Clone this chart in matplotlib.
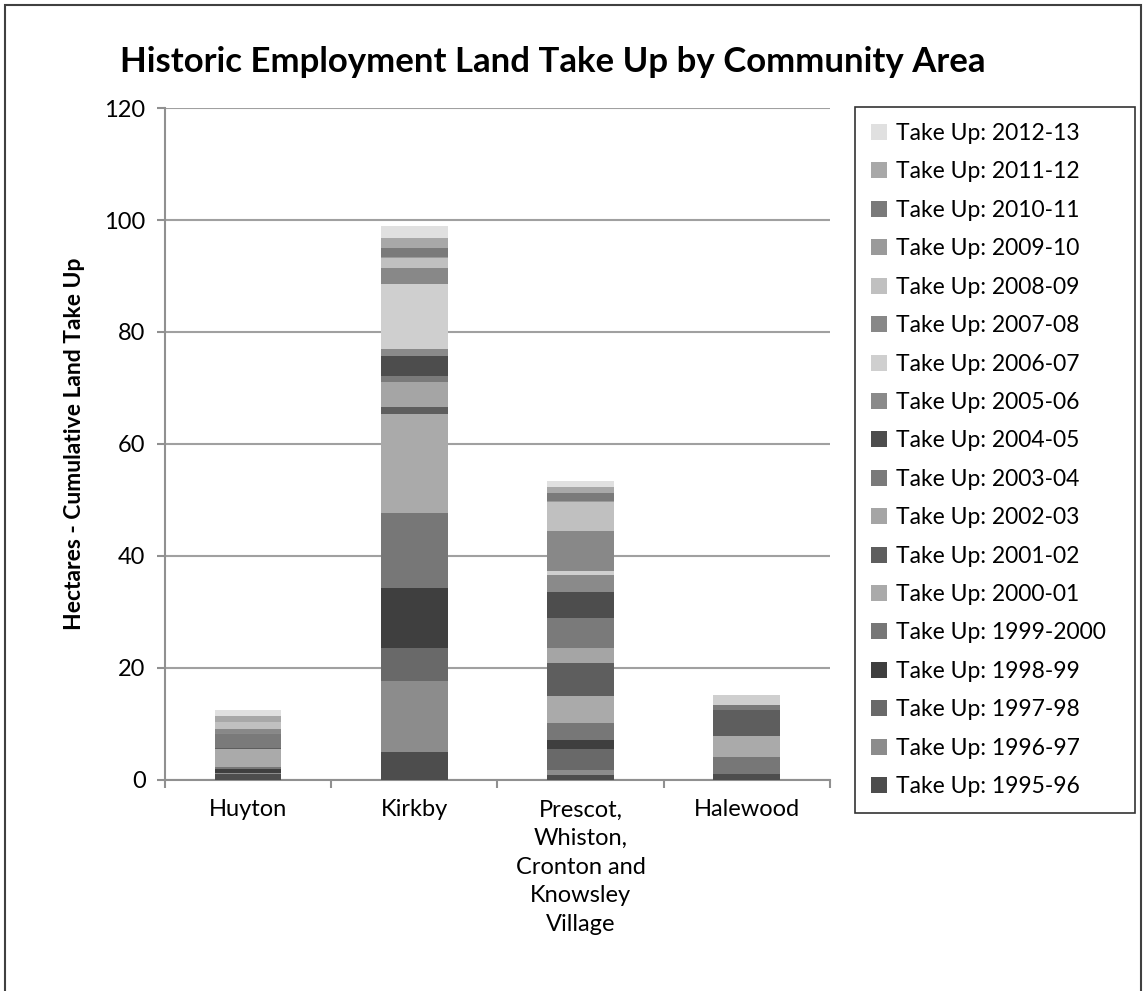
import numpy as np
import matplotlib
matplotlib.use("Agg")
import matplotlib.pyplot as plt
from matplotlib.patches import Rectangle

areas = ["Huyton", "Kirkby", "Prescot,\nWhiston,\nCronton and\nKnowsley\nVillage", "Halewood"]

years = ["1995-96", "1996-97", "1997-98", "1998-99", "1999-2000", "2000-01",
         "2001-02", "2002-03", "2003-04", "2004-05", "2005-06", "2006-07",
         "2007-08", "2008-09", "2009-10", "2010-11", "2011-12", "2012-13"]

# hectares taken up each year, per area (Huyton, Kirkby, Prescot..., Halewood)
take_up = {
    "1995-96":   [1.0, 5.0, 0.9, 1.1],
    "1996-97":   [0.25, 12.7, 0.8, 0.0],
    "1997-98":   [0.0, 5.9, 3.9, 0.0],
    "1998-99":   [0.7, 10.7, 1.6, 0.0],
    "1999-2000": [0.3, 13.4, 3.0, 3.0],
    "2000-01":   [3.3, 17.7, 4.8, 3.7],
    "2001-02":   [0.2, 1.2, 5.9, 4.6],
    "2002-03":   [0.0, 4.4, 2.7, 0.0],
    "2003-04":   [2.5, 1.1, 5.4, 1.0],
    "2004-05":   [0.0, 3.7, 4.6, 0.0],
    "2005-06":   [0.2, 1.2, 3.0, 0.0],
    "2006-07":   [0.0, 11.6, 0.7, 1.7],
    "2007-08":   [0.7, 2.9, 7.1, 0.0],
    "2008-09":   [1.2, 1.7, 5.2, 0.0],
    "2009-10":   [0.0, 0.2, 0.2, 0.0],
    "2010-11":   [0.0, 1.65, 1.5, 0.0],
    "2011-12":   [1.1, 1.8, 1.0, 0.0],
    "2012-13":   [1.1, 2.1, 1.1, 0.0],
}

greys = ["#4d4d4d", "#8c8c8c", "#696969", "#3f3f3f", "#777777", "#aaaaaa",
         "#5e5e5e", "#a5a5a5", "#7a7a7a", "#4d4d4d", "#8a8a8a", "#cfcfcf",
         "#888888", "#c0c0c0", "#9a9a9a", "#7a7a7a", "#a8a8a8", "#e0e0e0"]

plt.rcParams['font.family'] = ['Lato', 'DejaVu Sans']

fig = plt.figure(figsize=(11.46, 9.91), dpi=100)
ax = fig.add_axes([0.144, 0.213, 0.58, 0.678])

x = np.arange(len(areas))
bottom = np.zeros(len(areas))
handles = []
for yr, col in zip(years, greys):
    vals = np.array(take_up[yr])
    b = ax.bar(x, vals, width=0.4, bottom=bottom, color=col, zorder=3,
               label="Take Up: " + yr)
    handles.append(b)
    bottom += vals

ax.set_ylim(0, 120)
ax.set_yticks(range(0, 121, 20))
ax.set_xlim(-0.5, len(areas) - 0.5)
ax.yaxis.grid(True, color="#a0a0a0", linewidth=1.5, zorder=0)

ax.set_xticks(x)
ax.set_xticklabels(areas, fontsize=17, linespacing=1.45)
ax.set_xticks(np.arange(-0.5, len(areas)), minor=True)
ax.tick_params(axis="x", which="major", length=0, pad=14)
ax.tick_params(axis="x", which="minor", length=6, color="#909090", width=1.5)
ax.tick_params(axis="y", labelsize=17, length=6, color="#909090", width=1.5, pad=8)

for side in ["top", "right"]:
    ax.spines[side].set_visible(False)
for side in ["left", "bottom"]:
    ax.spines[side].set_color("#909090")
    ax.spines[side].set_linewidth(1.5)

ax.set_ylabel("Hectares - Cumulative Land Take Up", fontsize=16.5, fontweight="bold", labelpad=14)

fig.text(0.482, 0.937, "Historic Employment Land Take Up by Community Area",
         ha="center", va="center", fontsize=25, fontweight="bold")

leg = fig.legend(handles[::-1], [h.get_label() for h in handles[::-1]],
                 loc="upper left", bbox_to_anchor=(0.746, 0.0, 0.244, 0.892),
                 mode="expand", fontsize=16.5, frameon=True, fancybox=False,
                 edgecolor="black", labelspacing=0.76, handlelength=0.7,
                 handleheight=0.7, handletextpad=0.4, borderpad=0.7, borderaxespad=0)
leg.get_frame().set_linewidth(1.2)

# outer chart border
fig.patches.append(Rectangle((0.004, -0.01), 0.992, 1.005, transform=fig.transFigure,
                             fill=False, edgecolor="#404040", linewidth=1.5))

fig.savefig("out.png", dpi=100)
